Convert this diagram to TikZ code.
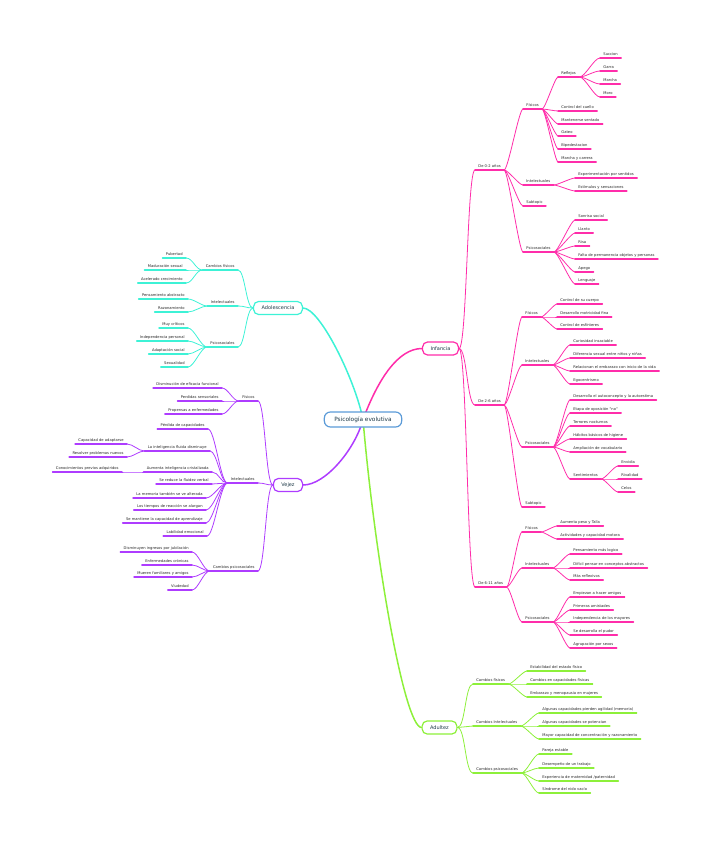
\documentclass[tikz,border=0pt]{standalone}
\usepackage{fontspec}
\newfontfamily\mapfont{DejaVu Sans}
\usetikzlibrary{positioning}
\definecolor{pk}{HTML}{FF2DAA}
\definecolor{cy}{HTML}{3DF2D6}
\definecolor{vi}{HTML}{AE3CFF}
\definecolor{gr}{HTML}{8DF03A}
\definecolor{bl}{HTML}{5B9BD8}
\definecolor{ink}{HTML}{1E3A48}

\begin{document}
\begin{tikzpicture}[x=1pt,y=-1pt,line cap=round]
	\tikzstyle{leaf}=[font=\mapfont\fontsize{3.7}{4.4}\selectfont,text=black!85,inner xsep=3.2pt,inner ysep=2pt,
		append after command={(\tikzlastnode.south west) edge[draw=#1,line width=1.4pt] (\tikzlastnode.south east)}]
	\tikzstyle{rt}=[leaf=#1,anchor=south west]
	\tikzstyle{lt}=[leaf=#1,anchor=south east]
	\tikzstyle{topic}=[draw=#1,fill=white,line width=1.2pt,rounded corners=5pt,text=ink,
		font=\mapfont\fontsize{5}{6}\selectfont,inner xsep=8pt,minimum height=13pt]
	\tikzstyle{rc}=[to path={.. controls +(#1,0) and +(-#1,0) .. (\tikztotarget)}]
	\tikzstyle{lc}=[to path={.. controls +(-#1,0) and +(#1,0) .. (\tikztotarget)}]
	\tikzstyle{br}=[draw=#1,line width=0.8pt]
	\tikzstyle{main}=[draw=#1,line width=1.5pt]

	\useasboundingbox (0,0) rectangle (713,848);
	\coordinate (hub) at (363,419.5);

	\node[topic=pk] (inf)  at (440.5,348.5) {Infancia};
	\node[topic=cy] (adol) at (278,308)     {Adolescencia};
	\node[topic=vi] (vej)  at (288,485)     {Vejez};
	\node[topic=gr] (adu)  at (439.5,727.5) {Adultez};

	\draw[main=pk] (hub) .. controls +(15,-40) and +(-24,0) .. (inf.west);
	\draw[main=cy] (hub) .. controls +(-8,-40) and +(17,0) .. (adol.east);
	\draw[main=vi] (hub) .. controls +(-8,30) and +(22,0) .. (vej.east);
	\draw[main=gr] (hub) .. controls +(12,140) and +(-17,0) .. (adu.west);

	\node[topic=bl,font=\mapfont\fontsize{5.8}{7}\selectfont,inner xsep=10pt,
		minimum height=15pt,rounded corners=6pt] (root) at (hub) {Psicología evolutiva};

	% Infancia
	\node[rt=pk] (d02)  at (475,170) {De 0-2 años};
	\node[rt=pk] (d26)  at (475,405) {De 2-6 años};
	\node[rt=pk] (d611) at (475,587) {De 6-11 años};

	\node[rt=pk] (f02) at (523,109) {Físicos};
	\node[rt=pk] (i02) at (523,185) {Intelectuales};
	\node[rt=pk] (s02) at (523,206) {Subtopic};
	\node[rt=pk] (p02) at (523,252) {Psicosociales};

	\node[rt=pk] (refl) at (558,77)  {Reflejos};
	\node[rt=pk] (cue)  at (558,111) {Control del cuello};
	\node[rt=pk] (sen)  at (558,124) {Mantenerse sentado};
	\node[rt=pk] (gat)  at (558,136) {Gateo};
	\node[rt=pk] (bip)  at (558,149) {Bipedestacion};
	\node[rt=pk] (mar)  at (558,162) {Marcha y carrera};

	\node[rt=pk] (suc) at (600,58) {Succion};
	\node[rt=pk] (gar) at (600,71) {Garra};
	\node[rt=pk] (mch) at (600,84) {Marcha};
	\node[rt=pk] (mor) at (600,97) {Moro};

	\node[rt=pk] (exp) at (575,178) {Experimentación por sentidos};
	\node[rt=pk] (est) at (575,191) {Estímulos y sensaciones};

	\node[rt=pk] (son) at (575,220) {Sonrisa social};
	\node[rt=pk] (lla) at (575,233) {Llanto};
	\node[rt=pk] (ris) at (575,246) {Risa};
	\node[rt=pk] (fal) at (575,259) {Falta de permanencia objetos y personas};
	\node[rt=pk] (ape) at (575,272) {Apego};
	\node[rt=pk] (len) at (575,284) {Lenguaje};

	\node[rt=pk] (f26) at (522,317) {Físicos};
	\node[rt=pk] (i26) at (522,365) {Intelectuales};
	\node[rt=pk] (p26) at (522,447) {Psicosociales};
	\node[rt=pk] (s26) at (522,507) {Subtopic};

	\node[rt=pk] (ccu) at (557,304) {Control de su cuerpo};
	\node[rt=pk] (dmf) at (557,317) {Desarrollo motricidad fina};
	\node[rt=pk] (ces) at (557,329) {Control de esfínteres};

	\node[rt=pk] (cur) at (570,345) {Curiosidad insaciable};
	\node[rt=pk] (dif) at (570,358) {Diferencia sexual entre niños y niñas};
	\node[rt=pk] (rel) at (570,371) {Relacionan el embarazo con inicio de la vida};
	\node[rt=pk] (ego) at (570,384) {Egocentrismo};

	\node[rt=pk] (aut)  at (570,400) {Desarrolla el autoconcepto y la autoestima};
	\node[rt=pk] (opo)  at (570,413) {Etapa de oposición "no"};
	\node[rt=pk] (ter)  at (570,426) {Terrores nocturnos};
	\node[rt=pk] (hab)  at (570,439) {Hábitos básicos de higiene};
	\node[rt=pk] (amp)  at (570,452) {Ampliación de vocabulario};
	\node[rt=pk] (sent) at (570,479) {Sentimientos};

	\node[rt=pk] (env) at (618,466) {Envidia};
	\node[rt=pk] (riv) at (618,479) {Rivalidad};
	\node[rt=pk] (cel) at (618,492) {Celos};

	\node[rt=pk] (f611) at (522,532) {Físicos};
	\node[rt=pk] (i611) at (522,568) {Intelectuales};
	\node[rt=pk] (p611) at (522,622) {Psicosociales};

	\node[rt=pk] (pes) at (557,526) {Aumenta peso y Talla};
	\node[rt=pk] (act) at (557,539) {Actividades y capacidad motora};

	\node[rt=pk] (log) at (570,554) {Pensamiento más logico};
	\node[rt=pk] (abs) at (570,568) {Difícil pensar en conceptos abstractos};
	\node[rt=pk] (ref) at (570,580) {Más reflexivos};

	\node[rt=pk] (ami) at (570,597) {Empiezan a hacer amigos};
	\node[rt=pk] (pri) at (570,610) {Primeras amistades};
	\node[rt=pk] (ind) at (570,622) {Independencia de los mayores};
	\node[rt=pk] (pud) at (570,635) {Se desarrolla el pudor};
	\node[rt=pk] (agr) at (570,648) {Agrupación por sexos};

	\path[br=pk] (inf.east) edge[rc=8] (d02.south west) edge[rc=8] (d26.south west) edge[rc=8] (d611.south west);
	\path[br=pk] (d02.south east) edge[rc=4] (f02.south west) edge[rc=4] (i02.south west)
		edge[rc=4] (s02.south west) edge[rc=4] (p02.south west);
	\path[br=pk] (f02.south east) edge[rc=3] (refl.south west) edge[rc=3] (cue.south west) edge[rc=3] (sen.south west)
		edge[rc=3] (gat.south west) edge[rc=3] (bip.south west) edge[rc=3] (mar.south west);
	\path[br=pk] (refl.south east) edge[rc=6] (suc.south west) edge[rc=6] (gar.south west)
		edge[rc=6] (mch.south west) edge[rc=6] (mor.south west);
	\path[br=pk] (i02.south east) edge[rc=4] (exp.south west) edge[rc=4] (est.south west);
	\path[br=pk] (p02.south east) edge[rc=4] (son.south west) edge[rc=4] (lla.south west) edge[rc=4] (ris.south west)
		edge[rc=4] (fal.south west) edge[rc=4] (ape.south west) edge[rc=4] (len.south west);
	\path[br=pk] (d26.south east) edge[rc=4] (f26.south west) edge[rc=4] (i26.south west)
		edge[rc=4] (p26.south west) edge[rc=4] (s26.south west);
	\path[br=pk] (f26.south east) edge[rc=3] (ccu.south west) edge[rc=3] (dmf.south west) edge[rc=3] (ces.south west);
	\path[br=pk] (i26.south east) edge[rc=4] (cur.south west) edge[rc=4] (dif.south west)
		edge[rc=4] (rel.south west) edge[rc=4] (ego.south west);
	\path[br=pk] (p26.south east) edge[rc=4] (aut.south west) edge[rc=4] (opo.south west) edge[rc=4] (ter.south west)
		edge[rc=4] (hab.south west) edge[rc=4] (amp.south west) edge[rc=4] (sent.south west);
	\path[br=pk] (sent.south east) edge[rc=4] (env.south west) edge[rc=4] (riv.south west) edge[rc=4] (cel.south west);
	\path[br=pk] (d611.south east) edge[rc=4] (f611.south west) edge[rc=4] (i611.south west) edge[rc=4] (p611.south west);
	\path[br=pk] (f611.south east) edge[rc=3] (pes.south west) edge[rc=3] (act.south west);
	\path[br=pk] (i611.south east) edge[rc=4] (log.south west) edge[rc=4] (abs.south west) edge[rc=4] (ref.south west);
	\path[br=pk] (p611.south east) edge[rc=4] (ami.south west) edge[rc=4] (pri.south west) edge[rc=4] (ind.south west)
		edge[rc=4] (pud.south west) edge[rc=4] (agr.south west);

	% Adultez
	\node[rt=gr] (cf) at (473,684) {Cambios físicos};
	\node[rt=gr] (ci) at (473,726) {Cambios Intelectuales};
	\node[rt=gr] (cp) at (473,773) {Cambios psicosociales};

	\node[rt=gr] (esf) at (527,671) {Estabilidad del estado físico};
	\node[rt=gr] (cap) at (527,684) {Cambios en capacidades físicas};
	\node[rt=gr] (emb) at (527,697) {Embarazo y menopausia en mujeres};

	\node[rt=gr] (agi) at (539,713) {Algunas capacidades pierden agilidad (memoria)};
	\node[rt=gr] (pot) at (539,726) {Algunas capacidades se potencian};
	\node[rt=gr] (con) at (539,739) {Mayor capacidad de concentración y razonamiento};

	\node[rt=gr] (par) at (539,754) {Pareja estable};
	\node[rt=gr] (tra) at (539,768) {Desempeño de un trabajo};
	\node[rt=gr] (mat) at (539,781) {Experiencia de maternidad /paternidad};
	\node[rt=gr] (nid) at (539,793) {Síndrome del nido vacío};

	\path[br=gr] (adu.east) edge[rc=8] (cf.south west) edge[rc=8] (ci.south west) edge[rc=8] (cp.south west);
	\path[br=gr] (cf.south east) edge[rc=4] (esf.south west) edge[rc=4] (cap.south west) edge[rc=4] (emb.south west);
	\path[br=gr] (ci.south east) edge[rc=4] (agi.south west) edge[rc=4] (pot.south west) edge[rc=4] (con.south west);
	\path[br=gr] (cp.south east) edge[rc=5] (par.south west) edge[rc=5] (tra.south west)
		edge[rc=5] (mat.south west) edge[rc=5] (nid.south west);

	% Adolescencia
	\node[lt=cy] (acf) at (238,270) {Cambios físicos};
	\node[lt=cy] (aci) at (238,306) {Intelectuales};
	\node[lt=cy] (acp) at (238,347) {Psicosociales};

	\node[lt=cy] (pub) at (186,258) {Pubertad};
	\node[lt=cy] (mad) at (186,270) {Maduración sexual};
	\node[lt=cy] (cre) at (186,283) {Acelerado crecimiento};

	\node[lt=cy] (pab) at (188,299) {Pensamiento abstracto};
	\node[lt=cy] (raz) at (188,312) {Razonamiento};

	\node[lt=cy] (cri)  at (188,328) {Muy críticos};
	\node[lt=cy] (inp)  at (188,341) {Independencia personal};
	\node[lt=cy] (adap) at (188,354) {Adaptación social};
	\node[lt=cy] (sex)  at (188,367) {Sexualidad};

	\path[br=cy] (adol.west) edge[lc=7] (acf.south east) edge[lc=7] (aci.south east) edge[lc=7] (acp.south east);
	\path[br=cy] (acf.south west) edge[lc=7] (pub.south east) edge[lc=7] (mad.south east) edge[lc=7] (cre.south east);
	\path[br=cy] (aci.south west) edge[lc=6] (pab.south east) edge[lc=6] (raz.south east);
	\path[br=cy] (acp.south west) edge[lc=6] (cri.south east) edge[lc=6] (inp.south east)
		edge[lc=6] (adap.south east) edge[lc=6] (sex.south east);

	% Vejez
	\node[lt=vi] (vf) at (258,401) {Físicos};
	\node[lt=vi] (vi) at (258,483) {Intelectuales};
	\node[lt=vi] (vp) at (258,571) {Cambios psicosociales};

	\node[lt=vi] (efi) at (222,388) {Disminución de eficacia funcional};
	\node[lt=vi] (per) at (222,401) {Perdidas sensoriales};
	\node[lt=vi] (pro) at (222,414) {Propensas a enfermedades};

	\node[lt=vi] (pca) at (208,429) {Pérdida de capacidades};
	\node[lt=vi] (flu) at (210,451) {La inteligencia fluida disminuye};
	\node[lt=vi] (crz) at (212,472) {Aumenta inteligencia cristalizada};
	\node[lt=vi] (ver) at (212,484) {Se reduce la fluidez verbal};
	\node[lt=vi] (mem) at (206,498) {La memoria también se ve alterada};
	\node[lt=vi] (tie) at (206,510) {Los tiempos de reacción se alargan};
	\node[lt=vi] (apr) at (206,523) {Se mantiene la capacidad de aprendizaje};
	\node[lt=vi] (lab) at (207,536) {Labilidad emocional};

	\node[lt=vi] (cadp) at (127,444) {Capacidad de adaptarse};
	\node[lt=vi] (res)  at (127,457) {Resolver problemas nuevos};
	\node[lt=vi] (prev) at (122,472) {Conocimientos previos adquiridos};

	\node[lt=vi] (jub) at (192,552) {Disminuyen ingresos por jubilación};
	\node[lt=vi] (enf) at (192,565) {Enfermedades crónicas};
	\node[lt=vi] (mue) at (192,577) {Mueren familiares y amigos};
	\node[lt=vi] (viu) at (192,590) {Viudedad};

	\path[br=vi] (vej.west) edge[lc=7] (vf.south east) edge[lc=7] (vi.south east) edge[lc=7] (vp.south east);
	\path[br=vi] (vf.south west) edge[lc=6] (efi.south east) edge[lc=6] (per.south east) edge[lc=6] (pro.south east);
	\path[br=vi] (vi.south west) edge[lc=7] (pca.south east) edge[lc=7] (flu.south east) edge[lc=7] (crz.south east)
		edge[lc=7] (ver.south east) edge[lc=7] (mem.south east) edge[lc=7] (tie.south east)
		edge[lc=7] (apr.south east) edge[lc=7] (lab.south east);
	\path[br=vi] (flu.south west) edge[lc=6] (cadp.south east) edge[lc=6] (res.south east);
	\path[br=vi] (crz.south west) edge[lc=6] (prev.south east);
	\path[br=vi] (vp.south west) edge[lc=6] (jub.south east) edge[lc=6] (enf.south east)
		edge[lc=6] (mue.south east) edge[lc=6] (viu.south east);
\end{tikzpicture}
\end{document}
